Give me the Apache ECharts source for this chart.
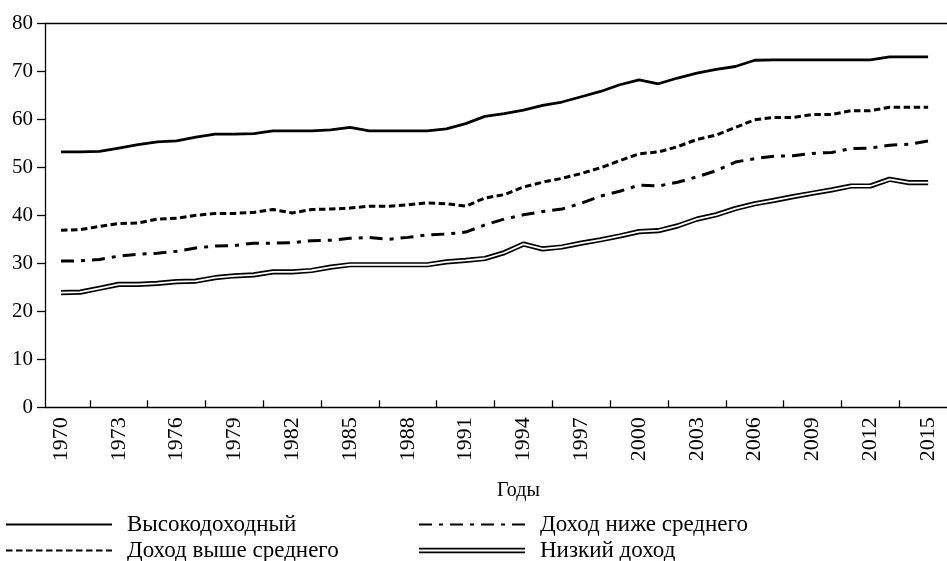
<!DOCTYPE html>
<html>
<head>
<meta charset="utf-8">
<script src="https://cdn.jsdelivr.net/npm/echarts@6/dist/echarts.min.js"></script>
<style>
  html, body { margin: 0; padding: 0; background: #fff; }
  #chart { width: 947px; height: 561px; }
</style>
</head>
<body>
<div id="chart"></div>
<script>
const years = [
  1970, 1971, 1972, 1973, 1974, 1975, 1976, 1977, 1978, 1979,
  1980, 1981, 1982, 1983, 1984, 1985, 1986, 1987, 1988, 1989,
  1990, 1991, 1992, 1993, 1994, 1995, 1996, 1997, 1998, 1999,
  2000, 2001, 2002, 2003, 2004, 2005, 2006, 2007, 2008, 2009,
  2010, 2011, 2012, 2013, 2014, 2015
];

const highIncome = [
  53.2, 53.2, 53.3, 54.0, 54.7, 55.3, 55.5, 56.3, 56.9, 56.9,
  57.0, 57.6, 57.6, 57.6, 57.8, 58.3, 57.6, 57.6, 57.6, 57.6,
  58.0, 59.1, 60.6, 61.2, 61.9, 62.9, 63.6, 64.7, 65.8, 67.2,
  68.2, 67.4, 68.6, 69.6, 70.4, 71.0, 72.3, 72.4, 72.4, 72.4,
  72.4, 72.4, 72.4, 73.0, 73.0, 73.0
];
const upperMiddle = [
  36.9, 37.0, 37.7, 38.3, 38.4, 39.2, 39.4, 40.0, 40.4, 40.4,
  40.6, 41.2, 40.5, 41.2, 41.3, 41.5, 41.9, 41.9, 42.2, 42.6,
  42.4, 41.9, 43.6, 44.3, 45.9, 46.9, 47.7, 48.7, 49.9, 51.4,
  52.8, 53.2, 54.3, 55.8, 56.7, 58.3, 59.9, 60.4, 60.4, 61.0,
  61.0, 61.8, 61.8, 62.5, 62.5, 62.5
];
const lowerMiddle = [
  30.5, 30.5, 30.8, 31.5, 31.9, 32.1, 32.5, 33.2, 33.6, 33.7,
  34.2, 34.2, 34.3, 34.7, 34.8, 35.2, 35.4, 35.0, 35.4, 35.9,
  36.1, 36.5, 38.0, 39.2, 40.1, 40.8, 41.3, 42.5, 44.0, 45.0,
  46.3, 46.1, 46.9, 48.0, 49.3, 51.1, 51.8, 52.3, 52.4, 52.9,
  53.1, 53.9, 54.0, 54.6, 54.8, 55.5
];
const lowIncome = [
  23.9, 24.0, 24.8, 25.6, 25.6, 25.8, 26.2, 26.3, 27.0, 27.4,
  27.6, 28.2, 28.2, 28.5, 29.2, 29.7, 29.7, 29.7, 29.7, 29.7,
  30.3, 30.6, 31.0, 32.2, 34.0, 33.0, 33.4, 34.2, 34.9, 35.7,
  36.6, 36.8, 37.8, 39.2, 40.1, 41.4, 42.4, 43.1, 43.9, 44.6,
  45.3, 46.1, 46.1, 47.5, 46.8, 46.8
];

// подписи по оси X каждые 3 года, засечки между подписями
const labelYears = [1970, 1973, 1976, 1979, 1982, 1985, 1988, 1991, 1994, 1997, 2000, 2003, 2006, 2009, 2012, 2015];
const tickYears = [1971.5, 1974.5, 1977.5, 1980.5, 1983.5, 1986.5, 1989.5, 1992.5, 1995.5, 1998.5, 2001.5, 2004.5, 2007.5, 2010.5, 2013.5];

const names = ["Высокодоходный", "Доход выше среднего", "Доход ниже среднего", "Низкий доход"];

const FONT = "Liberation Serif";

function pairs(values) {
  return years.map((y, i) => [y, values[i]]);
}

function legendBox(left, items) {
  return {
    orient: "vertical",
    left: left,
    top: 513,
    width: 400,
    height: 80,
    padding: 0,
    itemWidth: 106,
    itemHeight: 14,
    itemGap: 3,
    itemStyle: { opacity: 0 },
    data: items,
    textStyle: { fontFamily: FONT, fontSize: 23, color: "#000", lineHeight: 22, padding: [0, 0, 0, 10] }
  };
}

const chart = echarts.init(document.getElementById("chart"));

const option = {
  animation: false,
  backgroundColor: "#fff",
  textStyle: { fontFamily: FONT, color: "#000" },
  title: {
    text: "Годы",
    left: 497,
    top: 481,
    padding: 0,
    textStyle: { fontFamily: FONT, fontSize: 20, fontWeight: "normal", color: "#000" }
  },
  legend: [
    legendBox(5, [names[0], names[1]]),
    legendBox(418, [
      names[2],
      { name: names[3], icon: "path://M0,0H100V1.5H0Z M0,3.6H100V5.1H0Z", itemStyle: { opacity: 1 } }
    ])
  ],
  grid: { left: 45, right: 0, top: 23.3, bottom: 153.7, containLabel: false },
  xAxis: [
    {
      type: "value",
      min: 1969.17,
      max: 2015.98,
      splitLine: { show: false },
      axisLine: { show: true, lineStyle: { color: "#000", width: 1.3 } },
      axisTick: {
        show: true,
        inside: true,
        length: 7,
        customValues: tickYears,
        lineStyle: { color: "#000", width: 1.3 }
      },
      axisLabel: {
        show: true,
        customValues: labelYears,
        rotate: 90,
        margin: 10,
        fontFamily: FONT,
        fontSize: 22,
        color: "#000",
        formatter: (v) => String(v)
      }
    },
    {
      type: "value",
      position: "top",
      min: 1969.17,
      max: 2015.98,
      splitLine: { show: false },
      axisLine: { show: true, onZero: false, lineStyle: { color: "#000", width: 1.3 } },
      axisTick: { show: false },
      axisLabel: { show: false }
    }
  ],
  yAxis: {
    type: "value",
    min: 0,
    max: 80,
    interval: 10,
    splitLine: { show: false },
    axisLine: { show: true, lineStyle: { color: "#000", width: 1.3 } },
    axisTick: { show: true, inside: false, length: 8, lineStyle: { color: "#000", width: 1.3 } },
    axisLabel: { margin: 12, fontFamily: FONT, fontSize: 21, color: "#000" }
  },
  series: [
    {
      name: names[0],
      type: "line",
      data: pairs(highIncome),
      symbol: "none",
      itemStyle: { color: "#000" },
      lineStyle: { color: "#000", width: 2.8 }
    },
    {
      name: names[1],
      type: "line",
      data: pairs(upperMiddle),
      symbol: "none",
      itemStyle: { color: "#000" },
      lineStyle: { color: "#000", width: 3, type: [6.5, 3.5] }
    },
    {
      name: names[2],
      type: "line",
      data: pairs(lowerMiddle),
      symbol: "none",
      itemStyle: { color: "#000" },
      lineStyle: { color: "#000", width: 3, type: [13, 7, 4, 7] }
    },
    {
      name: names[3],
      type: "line",
      data: pairs(lowIncome),
      symbol: "none",
      itemStyle: { color: "#000" },
      lineStyle: { color: "#000", width: 5.2 }
    },
    {
      // белая середина двойной линии
      name: "lowIncomeInner",
      type: "line",
      data: pairs(lowIncome),
      symbol: "none",
      silent: true,
      itemStyle: { color: "#fff" },
      lineStyle: { color: "#fff", width: 1.8 }
    }
  ]
};

chart.setOption(option);
</script>
</body>
</html>
